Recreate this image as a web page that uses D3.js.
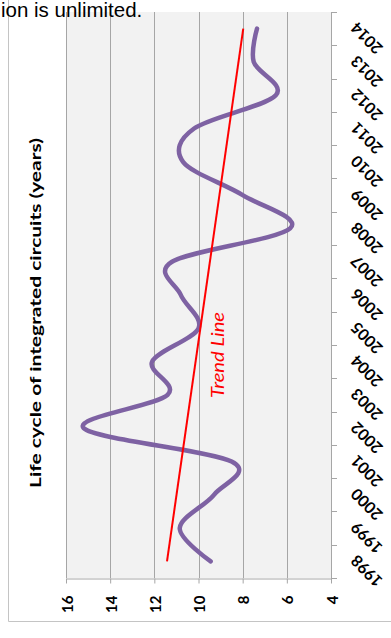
<!DOCTYPE html>
<html>
<head>
<meta charset="utf-8">
<script src="https://cdn.jsdelivr.net/npm/d3@7"></script>
<style>
  html, body { margin: 0; padding: 0; background: #ffffff; }
  svg { display: block; }
</style>
</head>
<body>
<svg id="chart" width="391" height="638"></svg>
<script>
// Years on the category axis (bottom to top once drawn)
const years = ["1998", "1999", "2000", "2001", "2002", "2003", "2004", "2005", "2006",
               "2007", "2008", "2009", "2010", "2011", "2012", "2013", "2014"];
// Life cycle of integrated circuits, in years
const lifeCycle = [9.45, 10.85, 9.3, 8.5, 15.2, 11.4, 12.1, 10.0, 10.8,
                   11.2, 5.85, 8.0, 10.7, 10.2, 6.5, 7.5, 7.35];
// Value axis tick labels
const valueTicks = [16, 14, 12, 10, 8, 6, 4];

const titleText = "Life cycle of integrated circuits (years)";
const trendText = "Trend Line";
const noteText = "ion is unlimited.";

const svg = d3.select("#chart");
const plot = { left: 66, right: 331, top: 12, bottom: 578 };
const axisColor = "#a6a6a6";
const chartFont = "Lato, 'Open Sans', 'DejaVu Sans', sans-serif";

// Value scale runs horizontally (16 on the left, 4 on the right)
const x = d3.scaleLinear().domain([16, 4]).range([plot.left, plot.right]);
// Years run vertically, latest at the top
const y = d3.scaleBand().domain(years.slice().reverse()).range([plot.top, plot.bottom]);
const yc = yr => y(yr) + y.bandwidth() / 2;

const series = years.map((yr, i) => ({ year: yr, value: lifeCycle[i] }));

// Chart-area frame
svg.append("path")
  .attr("d", `M8.5,-2 V621.5 H395`)
  .attr("fill", "none")
  .attr("stroke", "#c4c4c4")
  .attr("stroke-width", 1);

// Plot background
svg.append("rect")
  .attr("x", plot.left).attr("y", plot.top)
  .attr("width", plot.right - plot.left).attr("height", plot.bottom - plot.top)
  .attr("fill", "#f2f2f2");

// Vertical gridlines at each value tick
svg.append("g")
  .selectAll("line")
  .data(valueTicks)
  .join("line")
  .attr("x1", d => Math.round(x(d)) + 0.5).attr("x2", d => Math.round(x(d)) + 0.5)
  .attr("y1", plot.top).attr("y2", plot.bottom)
  .attr("stroke", axisColor).attr("stroke-width", 1);

// Value axis along the bottom
const xAxis = svg.append("g")
  .attr("transform", `translate(0,${plot.bottom + 0.5})`)
  .call(d3.axisBottom(x).tickValues(valueTicks).tickSize(5).tickSizeOuter(0).tickFormat(d3.format("d")));
xAxis.select(".domain").attr("stroke", axisColor);
xAxis.selectAll(".tick line").attr("stroke", axisColor);
xAxis.selectAll(".tick text")
  .attr("x", 0).attr("y", 0).attr("dy", null)
  .attr("transform", "translate(0,17) rotate(-90)")
  .attr("text-anchor", "end")
  .attr("dominant-baseline", "central")
  .attr("fill", "#000")
  .style("font", `bold 15px ${chartFont}`);

// Category axis on the right: line plus ticks at band boundaries
const catAxis = svg.append("g");
catAxis.append("line")
  .attr("x1", plot.right + 0.5).attr("x2", plot.right + 0.5)
  .attr("y1", plot.top).attr("y2", plot.bottom + 5)
  .attr("stroke", axisColor);
const boundaries = years.slice().reverse().map(yr => y(yr)).concat([plot.bottom]);
catAxis.selectAll("line.tick")
  .data(boundaries)
  .join("line")
  .attr("class", "tick")
  .attr("x1", plot.right).attr("x2", plot.right + 6)
  .attr("y1", d => Math.round(d) + 0.5).attr("y2", d => Math.round(d) + 0.5)
  .attr("stroke", axisColor);
catAxis.selectAll("text")
  .data(years)
  .join("text")
  .attr("transform", d => `translate(${plot.right + 22},${yc(d) - 3}) rotate(-135)`)
  .attr("text-anchor", "end")
  .attr("dominant-baseline", "central")
  .style("font", `bold 16px ${chartFont}`)
  .attr("fill", "#000")
  .text(d => d);

// Least-squares trend of the series
const n = series.length;
const mx = d3.mean(series, (d, i) => i);
const my = d3.mean(series, d => d.value);
const slope = d3.sum(series, (d, i) => (i - mx) * (d.value - my)) / d3.sum(series, (d, i) => (i - mx) ** 2);
const trend = [0, n - 1].map(i => ({ year: years[i], value: my + slope * (i - mx) }));

// Smoothed data line
svg.append("path")
  .datum(series)
  .attr("fill", "none")
  .attr("stroke", "#7e62a3")
  .attr("stroke-width", 4.5)
  .attr("stroke-linecap", "round")
  .attr("stroke-linejoin", "round")
  .attr("d", d3.line().x(d => x(d.value)).y(d => yc(d.year)).curve(d3.curveCardinal.tension(0)));

// Trend line
svg.append("path")
  .datum(trend)
  .attr("fill", "none")
  .attr("stroke", "#ff0000")
  .attr("stroke-width", 2)
  .attr("d", d3.line().x(d => x(d.value)).y(d => yc(d.year)));

// Trend label
svg.append("text")
  .attr("transform", "translate(217,355) rotate(-90)")
  .attr("text-anchor", "middle")
  .attr("dominant-baseline", "central")
  .attr("fill", "#ff0000")
  .style("font", `italic 17px ${chartFont}`)
  .attr("textLength", 86)
  .attr("lengthAdjust", "spacingAndGlyphs")
  .text(trendText);

// Value-axis title
svg.append("text")
  .attr("transform", "translate(34,313) rotate(-90)")
  .attr("text-anchor", "middle")
  .attr("dominant-baseline", "central")
  .attr("fill", "#000")
  .style("font", `bold 16px ${chartFont}`)
  .attr("textLength", 350)
  .attr("lengthAdjust", "spacingAndGlyphs")
  .text(titleText);

// Running text above the chart
svg.append("text")
  .attr("x", 1).attr("y", 17)
  .attr("fill", "#000")
  .style("font", "20.5px 'Liberation Sans', Arial, sans-serif")
  .text(noteText);
</script>
</body>
</html>
